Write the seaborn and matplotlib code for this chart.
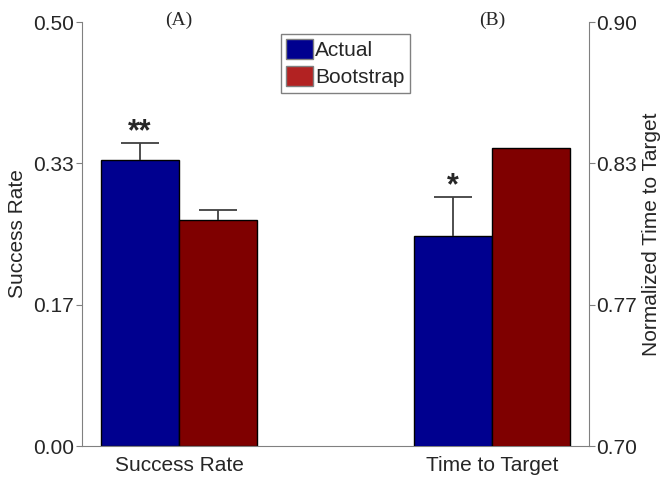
import pandas as pd
import matplotlib.pyplot as plt
import matplotlib.transforms as mtransforms
from matplotlib.patches import Patch
import seaborn as sns

# values
categories = ["Success Rate", "Time to Target"]
groups = ["Actual", "Bootstrap"]
success_rate = [0.337, 0.2665]
success_err = [0.020, 0.012]
time_to_target = [0.799, 0.8405]
time_err = [0.0185, 0.0]
stars = {"Success Rate": "**", "Time to Target": "*"}
panel_tags = {"Success Rate": "(A)", "Time to Target": "(B)"}

left_ticks = [0.0, 1 / 6, 1 / 3, 0.5]
left_labels = ["0.00", "0.17", "0.33", "0.50"]
right_ticks = [0.70, 0.70 + 0.2 / 3, 0.70 + 0.4 / 3, 0.90]
right_labels = ["0.70", "0.77", "0.83", "0.90"]

df_sr = pd.DataFrame({"metric": categories[0], "group": groups,
                      "value": success_rate, "err": success_err})
df_tt = pd.DataFrame({"metric": categories[1], "group": groups,
                      "value": time_to_target, "err": time_err})

sns.set_style("ticks")
plt.rcParams["font.family"] = ["Liberation Sans", "DejaVu Sans"]

bar_colors = {"Actual": "#00008F", "Bootstrap": "#7F0000"}
legend_colors = {"Actual": "#00008F", "Bootstrap": "#B22222"}
spine_gray = "#808080"
fs = 15

fig = plt.figure(figsize=(6.64, 4.79), dpi=100)
ax = fig.add_axes([82 / 664, 1 - 446 / 479, 507 / 664, 424 / 479])
ax2 = ax.twinx()

for a, d in [(ax, df_sr), (ax2, df_tt)]:
    sns.barplot(data=d, x="metric", y="value", hue="group", order=categories,
                hue_order=groups, palette=bar_colors, width=0.5, errorbar=None,
                edgecolor="black", linewidth=1, saturation=1, legend=False, ax=a)
    # upper-only error bars placed on the drawn bars
    for cont, g in zip(a.containers, groups):
        for bar in cont:
            xc = bar.get_x() + bar.get_width() / 2
            cat = categories[int(round(xc))]
            row = d[(d["metric"] == cat) & (d["group"] == g)].iloc[0]
            if row["err"] > 0:
                eb = a.errorbar(xc, row["value"], yerr=[[0], [row["err"]]], fmt="none",
                                ecolor="#404040", elinewidth=1.3, capsize=14,
                                capthick=1.3, zorder=1)
                eb[1][0].set_visible(False)  # drop the lower cap
            if g == "Actual":
                a.annotate(stars[cat], (xc, row["value"] + row["err"]),
                           xytext=(0, -3), textcoords="offset points",
                           ha="center", va="bottom", fontsize=22, fontweight="bold")

ax.set_xlim(-0.31, 1.31)
ax.set_ylim(0, 0.5)
ax2.set_ylim(0.70, 0.90)
ax.set_yticks(left_ticks, left_labels)
ax2.set_yticks(right_ticks, right_labels)
ax.set_xlabel("")
ax2.set_xlabel("")
ax.set_ylabel("Success Rate", fontsize=fs, labelpad=4)
ax2.set_ylabel("Normalized Time to Target", fontsize=fs, labelpad=4)
ax.tick_params(axis="x", length=0, labelsize=fs, pad=7)
ax.tick_params(axis="y", labelsize=fs, color=spine_gray, length=4, pad=2)
ax2.tick_params(axis="y", labelsize=fs, color=spine_gray, length=4, pad=1)

for a in (ax, ax2):
    a.spines["top"].set_visible(False)
    for s in a.spines.values():
        s.set_color(spine_gray)
ax.spines["right"].set_visible(False)
ax2.spines["left"].set_visible(False)
ax2.spines["bottom"].set_visible(False)

trans = mtransforms.blended_transform_factory(ax.transData, ax.transAxes)
for i, cat in enumerate(categories):
    ax.text(i, 1.005, panel_tags[cat], transform=trans, ha="center", va="center",
            fontsize=14, family="Liberation Serif")

handles = [Patch(facecolor=legend_colors[g], edgecolor=spine_gray, label=g) for g in groups]
leg = ax2.legend(handles=handles, loc="upper center", bbox_to_anchor=(0.519, 0.972),
                 fancybox=False, edgecolor=spine_gray, framealpha=1, fontsize=fs,
                 handlelength=1.3, handleheight=1.1, handletextpad=0.1,
                 labelspacing=0.3, borderpad=0.25, borderaxespad=0)
leg.get_frame().set_linewidth(1)

fig.savefig("out.png", dpi=100)
